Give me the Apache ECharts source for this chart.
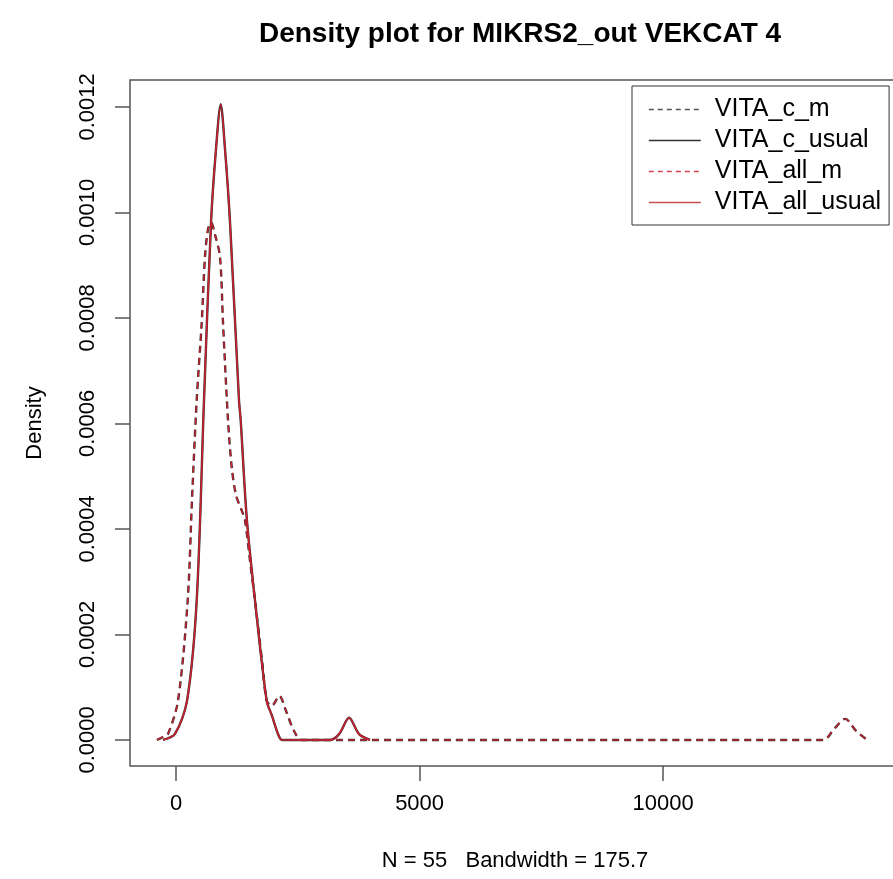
<!DOCTYPE html>
<html>
<head>
<meta charset="utf-8">
<script src="https://cdn.jsdelivr.net/npm/echarts@6/dist/echarts.min.js"></script>
<style>
html,body{margin:0;padding:0;background:#fff;}
#densitychart{width:893px;height:879px;}
</style>
</head>
<body>
<div id="densitychart"></div>
<script>
// curves, [x, density]
var mDensity = [
  [-390, 0], [-267, 0.0000057], [-164, 0.0000114], [41, 0.0000741], [240, 0.000264],
  [328, 0.000454], [425, 0.000644], [528, 0.000791], [595, 0.000916], [657, 0.000968],
  [719, 0.000981], [801, 0.000958], [903, 0.000916], [965, 0.000791], [1068, 0.000606],
  [1144, 0.000517], [1232, 0.000464], [1349, 0.000435], [1417, 0.000416], [1519, 0.000340],
  [1622, 0.000264], [1766, 0.000150], [1862, 0.0000741], [1965, 0.0000646], [2121, 0.0000836],
  [2258, 0.000055], [2423, 0.000017], [2581, 0], [13283, 0], [13509, 0.000021],
  [13735, 0.000040], [13960, 0.000017], [14186, 0]
];
var usualDensity = [
  [-267, 0], [-21, 0.0000114], [226, 0.0000741], [425, 0.000264], [575, 0.000644],
  [719, 0.000981], [821, 0.00112], [918, 0.001205], [1006, 0.00112], [1109, 0.000981],
  [1293, 0.000644], [1328, 0.000606], [1451, 0.000422], [1622, 0.000264], [1862, 0.0000741],
  [1971, 0.0000456], [2094, 0.0000114], [2176, 0], [3162, 0], [3347, 0.000011],
  [3552, 0.000042], [3757, 0.000011], [3983, 0]
];
var xTicks = [0, 5000, 10000];
var yTicks = [0, 0.0002, 0.0004, 0.0006, 0.0008, 0.0010, 0.0012];
var seriesNames = ['VITA_c_m', 'VITA_c_usual', 'VITA_all_m', 'VITA_all_usual'];

var fontFam = '"Liberation Sans", Arial, Helvetica, sans-serif';
var chart = echarts.init(document.getElementById('densitychart'));

function densitySeries(name, data, color, width, dashed){
    return {
        name: name,
        type: 'line',
        data: data,
        symbol: 'none',
        smooth: 0.3,
        animation: false,
        lineStyle: {color: color, width: width, type: dashed ? [7, 5] : 'solid'},
        itemStyle: {color: color}
    };
}

function legendItem(name, color, dashed){
    return {
        name: name,
        itemStyle: {opacity: 0},
        lineStyle: {color: color, width: 1.6, type: dashed ? [5, 4] : 'solid'}
    };
}

var option = {
    backgroundColor: '#fff',
    title: {
        text: 'Density plot for MIKRS2_out VEKCAT 4',
        left: 515,
        top: 15,
        textAlign: 'center',
        textStyle: {fontFamily: fontFam, fontSize: 28, fontWeight: 'bold', color: '#000'}
    },
    grid: {
        left: 130, width: 770, top: 80, bottom: 113,
        outerBoundsMode: 'none',
        containLabel: false,
        show: true, borderColor: '#555', borderWidth: 1.5, backgroundColor: 'transparent'
    },
    legend: {
        orient: 'vertical',
        left: 632,
        top: 86,
        itemWidth: 52,
        itemHeight: 14,
        itemGap: 6,
        padding: [11, 8, 10, 16],
        borderColor: '#333',
        borderWidth: 1,
        textStyle: {fontFamily: fontFam, fontSize: 25, color: '#000', lineHeight: 23, padding: [0, 0, 0, 9]},
        data: [
            legendItem(seriesNames[0], '#555', true),
            legendItem(seriesNames[1], '#333', false),
            legendItem(seriesNames[2], '#d84050', true),
            legendItem(seriesNames[3], '#c85050', false)
        ]
    },
    xAxis: {
        type: 'value',
        min: -944,
        max: 14860,
        name: 'N = 55   Bandwidth = 175.7',
        nameLocation: 'middle',
        nameGap: 84,
        nameTextStyle: {fontFamily: fontFam, fontSize: 22, color: '#000'},
        splitLine: {show: false},
        axisLine: {show: false, onZero: false},
        axisTick: {show: true, length: 15, customValues: xTicks, lineStyle: {color: '#555', width: 1.5}},
        axisLabel: {
            customValues: xTicks, margin: 27, fontFamily: fontFam, fontSize: 22, color: '#000',
            formatter: function(v){ return String(v); }
        }
    },
    yAxis: {
        type: 'value',
        min: -0.0000494,
        max: 0.001251,
        name: 'Density',
        nameLocation: 'middle',
        nameRotate: 90,
        nameGap: 84,
        nameTextStyle: {fontFamily: fontFam, fontSize: 22, color: '#000'},
        splitLine: {show: false},
        axisLine: {show: false, onZero: false},
        axisTick: {show: true, length: 15, customValues: yTicks, lineStyle: {color: '#555', width: 1.5}},
        axisLabel: {
            customValues: yTicks, rotate: 90, margin: 31,
            fontFamily: fontFam, fontSize: 22, color: '#000',
            formatter: function(v){ return v.toFixed(4); }
        }
    },
    series: [
        densitySeries(seriesNames[0], mDensity, '#333', 2.4, true),
        densitySeries(seriesNames[1], usualDensity, '#333', 2.4, false),
        densitySeries(seriesNames[2], mDensity, '#cc2030', 1.3, true),
        densitySeries(seriesNames[3], usualDensity, '#cc2030', 1.6, false)
    ]
};
chart.setOption(option);
</script>
</body>
</html>
